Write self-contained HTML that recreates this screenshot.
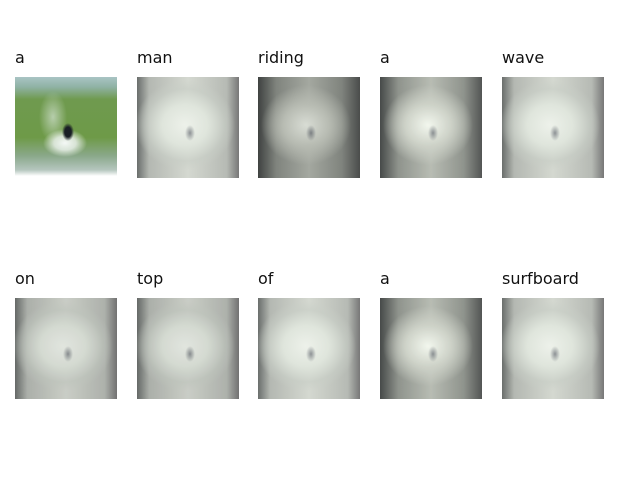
<!DOCTYPE html>
<html><head><meta charset="utf-8"><style>
body{margin:0;width:640px;height:480px;background:#fff;position:relative;overflow:hidden;font-family:"DejaVu Sans","Liberation Sans",sans-serif}
.t{position:absolute;font-size:16px;color:#111;line-height:1}
.im{position:absolute;width:102px;height:101px;overflow:hidden}
.photo{background:
 radial-gradient(ellipse 6px 9px at 53px 55px,#1a1f25 0,#1a1f25 55%,transparent 100%),
 radial-gradient(ellipse 22px 14px at 50px 66px,#f4f8f6 0,rgba(240,245,243,.8) 50%,transparent 100%),
 radial-gradient(ellipse 14px 26px at 38px 40px,rgba(230,240,235,.6) 0,transparent 100%),
 linear-gradient(#a9c4c4 0,#8fb2a4 10%,#6f9a4f 22%,#6e9a48 60%,#8aa88a 78%,#b5c6be 92%,#fff 98%)}
.att{background:
 radial-gradient(ellipse 5px 8px at 53px 56px,rgba(80,85,95,.6) 0,transparent 100%),
 radial-gradient(ellipse 50px 45px at 48px 48px,#edf1ea 0,#dfe5dc 45%,rgba(200,206,198,.6) 80%,transparent 100%),
 linear-gradient(90deg,#6a6e6c 0,#b4b8b2 12%,#d4d8d0 50%,#b6bab4 88%,#777 100%)}
.dark{background:
 radial-gradient(ellipse 5px 8px at 53px 56px,rgba(70,75,85,.6) 0,transparent 100%),
 radial-gradient(ellipse 45px 40px at 48px 48px,#d8dcd4 0,#b8bcb3 50%,transparent 100%),
 linear-gradient(90deg,#3f4241 0,#80847e 18%,#a4a8a0 50%,#80847e 82%,#4a4c4b 100%)}
</style></head><body>
<div>
<div class="t" style="left:15px;top:50px">a</div>
<div class="im photo" style="left:15px;top:77px"></div>
<div class="t" style="left:137px;top:50px">man</div>
<div class="im att" style="left:137px;top:77px"></div>
<div class="t" style="left:258px;top:50px">riding</div>
<div class="im dark" style="left:258px;top:77px"></div>
<div class="t" style="left:380px;top:50px">a</div>
<div class="im dark" style="left:380px;top:77px;filter:brightness(1.12)"></div>
<div class="t" style="left:502px;top:50px">wave</div>
<div class="im att" style="left:502px;top:77px"></div>

<div class="t" style="left:15px;top:271px">on</div>
<div class="im att" style="left:15px;top:298px;filter:brightness(.95)"></div>
<div class="t" style="left:137px;top:271px">top</div>
<div class="im att" style="left:137px;top:298px;filter:brightness(.95)"></div>
<div class="t" style="left:258px;top:271px">of</div>
<div class="im att" style="left:258px;top:298px"></div>
<div class="t" style="left:380px;top:271px">a</div>
<div class="im dark" style="left:380px;top:298px;filter:brightness(1.12)"></div>
<div class="t" style="left:502px;top:271px">surfboard</div>
<div class="im att" style="left:502px;top:298px"></div>
</div>
</body></html>
